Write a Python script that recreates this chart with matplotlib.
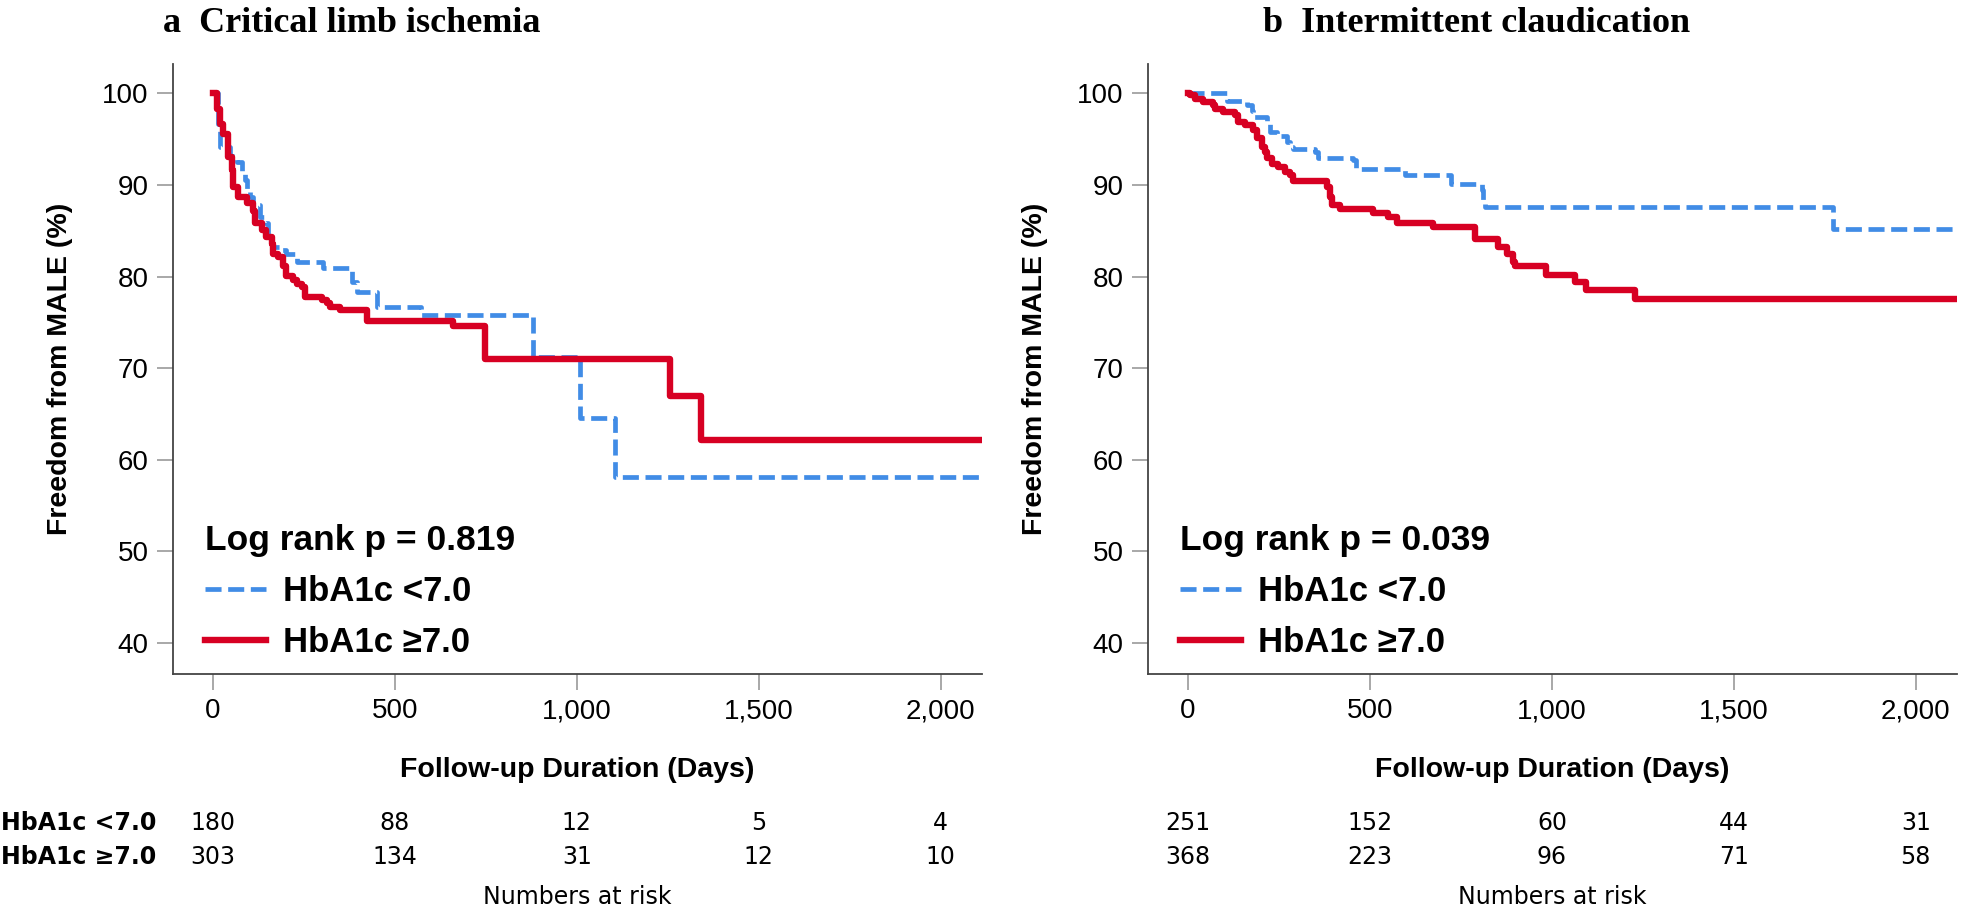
import matplotlib
matplotlib.use("Agg")
import matplotlib.pyplot as plt
from matplotlib import font_manager
from matplotlib.lines import Line2D
from matplotlib.ticker import StrMethodFormatter
from matplotlib.transforms import blended_transform_factory

# ---- data (days, % free from MALE) ----
cli_low_t = [0, 15, 19, 47, 65, 79, 88, 93, 102, 111, 129, 143, 152, 161, 184, 202, 230,
             303, 381, 395, 450, 573, 880, 1008, 1104, 2113]
cli_low_s = [100, 96.7, 94.1, 93.2, 92.5, 91.2, 90.5, 89.4, 88.7, 87.8, 86.5, 85.8, 84.3,
             83.2, 82.9, 82.5, 81.6, 80.9, 79.4, 78.3, 76.7, 75.8, 71.2, 64.6, 58.1, 58.1]

cli_high_t = [0, 10, 19, 28, 42, 51, 56, 70, 93, 111, 115, 134, 147, 161, 166, 179, 193,
              202, 221, 230, 244, 253, 299, 312, 321, 349, 422, 660, 747, 1256, 1342, 2113]
cli_high_s = [100, 98.3, 96.7, 95.6, 93.0, 91.6, 89.8, 88.7, 88.0, 87.2, 85.8, 85.1, 84.3,
              83.6, 82.5, 82.1, 81.1, 80.1, 79.6, 79.2, 78.9, 77.8, 77.4, 77.1, 76.7, 76.3,
              75.2, 74.6, 71.0, 67.0, 62.2, 62.2]

ic_low_t = [0, 106, 161, 175, 179, 216, 225, 244, 271, 280, 289, 349, 358, 454, 463, 596,
            724, 807, 811, 816, 1773, 2113]
ic_low_s = [100, 99.2, 98.7, 98.1, 97.4, 96.7, 95.8, 95.4, 94.7, 94.2, 93.9, 93.6, 92.9,
            92.7, 91.7, 91.1, 90.1, 89.4, 88.3, 87.6, 85.2, 85.2]

ic_high_t = [0, 5, 19, 42, 70, 74, 97, 129, 138, 157, 179, 189, 202, 211, 216, 230, 248,
             266, 280, 289, 381, 390, 395, 418, 509, 550, 573, 674, 788, 852, 876, 894,
             898, 985, 1063, 1095, 1228, 2113]
ic_high_s = [100, 99.8, 99.4, 99.1, 98.7, 98.3, 98.0, 97.6, 96.9, 96.5, 96.0, 95.1, 94.1,
             93.6, 92.9, 92.3, 92.0, 91.4, 91.1, 90.4, 89.8, 88.7, 87.8, 87.4, 86.9, 86.5,
             85.9, 85.4, 84.1, 83.2, 82.5, 81.6, 81.1, 80.2, 79.4, 78.5, 77.6, 77.6]

risk_days = [0, 500, 1000, 1500, 2000]
cli_risk_low = [180, 88, 12, 5, 4]
cli_risk_high = [303, 134, 31, 12, 10]
ic_risk_low = [251, 152, 60, 44, 31]
ic_risk_high = [368, 223, 96, 71, 58]

group_labels = ["HbA1c <7.0", "HbA1c \u22657.0"]
panel_letters = ["a", "b"]
panel_titles = ["Critical limb ischemia", "Intermittent claudication"]
p_values = ["0.819", "0.039"]

BLUE = "#418ce6"
RED = "#d70023"

installed = {f.name for f in font_manager.fontManager.ttflist}
NARROW = "Liberation Sans Narrow" if "Liberation Sans Narrow" in installed else "DejaVu Sans"
plt.rcParams["font.family"] = ["Liberation Sans", "DejaVu Sans"]


def km_panel(ax, low_t, low_s, high_t, high_s, risk_low, risk_high, pval, row_labels=True):
    ax.step(low_t, low_s, where="post", color=BLUE, lw=3.4, dashes=(3.4, 1.4))
    ax.step(high_t, high_s, where="post", color=RED, lw=4.6)

    ax.set_xlim(-110, 2113)
    ax.set_ylim(36.6, 103.2)
    ax.set_xticks(risk_days)
    ax.set_yticks([40, 50, 60, 70, 80, 90, 100])
    ax.xaxis.set_major_formatter(StrMethodFormatter("{x:,.0f}"))
    ax.tick_params(length=11.5, width=1.2, color="#9a9a9a", labelsize=20, pad=6)
    for side in ["top", "right"]:
        ax.spines[side].set_visible(False)
    for side in ["left", "bottom"]:
        ax.spines[side].set_color("#444444")
        ax.spines[side].set_linewidth(1.3)

    ax.set_ylabel("Freedom from MALE (%)", fontsize=20.5, fontweight="bold")
    ax.yaxis.set_label_coords(-0.14, 0.5)
    ax.yaxis.label.set_va("center")
    ax.set_xlabel("Follow-up Duration (Days)", fontsize=20.5, fontweight="bold")
    ax.xaxis.set_label_coords(0.5, -0.157)
    ax.xaxis.label.set_va("center")

    handles = [Line2D([], [], color=BLUE, lw=3.4, dashes=(3.4, 1.4)),
               Line2D([], [], color=RED, lw=4.6)]
    ax.legend(handles, group_labels, title=f"Log rank p = {pval}", loc="lower left",
              bbox_to_anchor=(0.01, -0.016), frameon=False, alignment="left",
              prop={"weight": "bold", "size": 25}, title_fontproperties={"weight": "bold", "size": 25.5},
              handlelength=1.75, handletextpad=0.5, labelspacing=0.52, borderpad=0.2)

    # numbers at risk table under the axis
    trans = blended_transform_factory(ax.transData, ax.transAxes)
    for x, a, b in zip(risk_days, risk_low, risk_high):
        ax.text(x, -0.244, str(a), transform=trans, ha="center", va="center",
                fontsize=17, family=NARROW)
        ax.text(x, -0.300, str(b), transform=trans, ha="center", va="center",
                fontsize=17, family=NARROW)
    ax.text(1000, -0.366, "Numbers at risk", transform=trans, ha="center", va="center",
            fontsize=17, family=NARROW)
    if row_labels:
        for y, lab in zip([-0.244, -0.300], group_labels):
            ax.text(-0.213, y, lab, transform=ax.transAxes, ha="left", va="center",
                    fontsize=17, family=[NARROW, "DejaVu Sans"], fontweight="bold")


fig = plt.figure(figsize=(19.61, 9.09), dpi=100)
ax_a = fig.add_axes([0.0882, 0.2585, 0.4125, 0.671])
ax_b = fig.add_axes([0.5854, 0.2585, 0.4125, 0.671])

km_panel(ax_a, cli_low_t, cli_low_s, cli_high_t, cli_high_s, cli_risk_low, cli_risk_high, p_values[0])
km_panel(ax_b, ic_low_t, ic_low_s, ic_high_t, ic_high_s, ic_risk_low, ic_risk_high, p_values[1],
         row_labels=False)

for x, letter, title in zip([0.083, 0.644], panel_letters, panel_titles):
    fig.text(x, 0.974, f"{letter}  {title}", fontsize=26, fontweight="bold",
             family="Liberation Serif", ha="left", va="center")

fig.savefig("out.png", dpi=100)
